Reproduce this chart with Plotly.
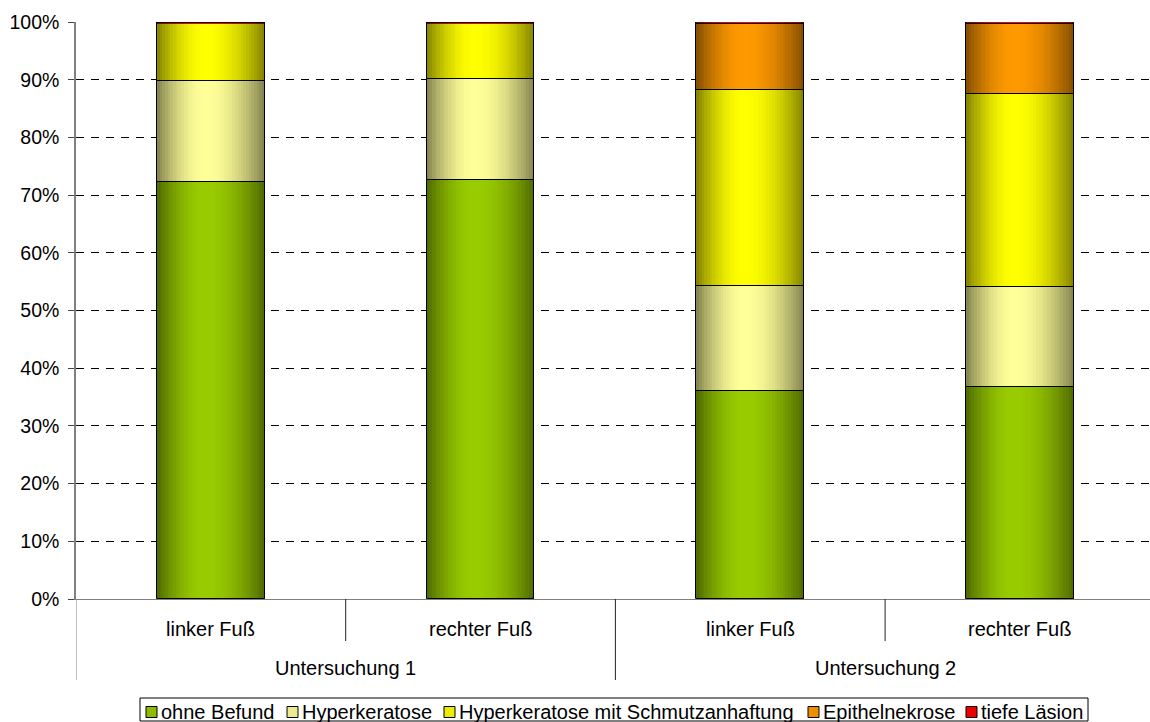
import numpy as np
import plotly.graph_objects as go

# ---- data (percent of feet per finding) ----
groups = ["Untersuchung 1", "Untersuchung 1", "Untersuchung 2", "Untersuchung 2"]
feet = ["linker Fuß", "rechter Fuß", "linker Fuß", "rechter Fuß"]
series_names = ["ohne Befund", "Hyperkeratose", "Hyperkeratose mit Schmutzanhaftung",
                "Epithelnekrose", "tiefe Läsion"]
ohne_befund = [72.2, 72.6, 36.1, 36.7]
hyperkeratose = [17.5, 17.6, 18.1, 17.3]
hyperkeratose_schmutz = [10.1, 9.6, 34.0, 33.5]
epithelnekrose = [0.0, 0.0, 11.4, 12.2]
tiefe_laesion = [0.2, 0.2, 0.4, 0.3]
y_ticks = list(range(0, 101, 10))

series_values = [ohne_befund, hyperkeratose, hyperkeratose_schmutz, epithelnekrose, tiefe_laesion]
center_colors = ["#99CC00", "#FFFF99", "#FFFF00", "#FF9900", "#FF0000"]

# ---- layout geometry ----
W, H = 1150, 722
L, R, T, B = 76, 0, 22, 123
plot_w = W - L - R
plot_h = H - T - B
cat_px = 269.7
x_range = [-0.5, -0.5 + plot_w / cat_px]
FONT = "Liberation Sans, Arial, sans-serif"
FS = 20
FS_TICK = 19.5


def px_x(px):
    return (px - L) / plot_w


def px_y(py):
    return (H - B - py) / plot_h


def hex_rgb(h):
    h = h.lstrip("#")
    return np.array([int(h[i:i + 2], 16) for i in (0, 2, 4)], float)


def shade(hex_color, f):
    c = hex_rgb(hex_color)
    edge = c * 0.5
    v = edge + (c - edge) * f
    return "rgb(%d,%d,%d)" % tuple(np.clip(np.round(v), 0, 255))


def profile(t, peak=0.45):
    # dark edges, bright band slightly left of centre
    if t < peak:
        u = t / peak
    else:
        u = (1 - t) / (1 - peak)
    return np.sin(np.pi / 2 * u) ** 0.9


xs = np.arange(len(feet))
bar_w = 0.4
n_slices = 40
sw = bar_w / n_slices

fig = go.Figure()

# shaded fills, drawn as thin vertical slices of each segment
bottoms = np.zeros(len(feet))
seg_bases = []
for vals, col in zip(series_values, center_colors):
    vals = np.array(vals, float)
    seg_bases.append(bottoms.copy())
    for k in range(n_slices):
        t = (k + 0.5) / n_slices
        fig.add_trace(go.Bar(
            x=xs, y=vals, base=bottoms,
            width=sw * (1.8 if k < n_slices - 1 else 1.0),
            offset=-bar_w / 2 + k * sw,
            marker=dict(color=shade(col, profile(t)), line=dict(width=0)),
            showlegend=False, hoverinfo="skip",
        ))
    bottoms = bottoms + vals

# black outlines of every segment
for name, vals, base in zip(series_names, series_values, seg_bases):
    fig.add_trace(go.Bar(
        x=xs, y=vals, base=base, width=bar_w, offset=-bar_w / 2,
        marker=dict(color="rgba(0,0,0,0)", line=dict(color="black", width=1)),
        name=name, showlegend=False,
        customdata=feet, hovertemplate=name + ": %{y:.1f}%<extra></extra>",
    ))

annotations = []
shapes = []

# inner category labels
for i, f in enumerate(feet):
    annotations.append(dict(x=xs[i], y=px_y(629), xref="x", yref="paper", text=f,
                            showarrow=False, xanchor="center", yanchor="middle",
                            font=dict(family=FONT, size=FS, color="black")))

# outer group labels
for g in dict.fromkeys(groups):
    idx = [i for i, v in enumerate(groups) if v == g]
    annotations.append(dict(x=(xs[idx[0]] + xs[idx[-1]]) / 2, y=px_y(668), xref="x", yref="paper",
                            text=g, showarrow=False, xanchor="center", yanchor="middle",
                            font=dict(family=FONT, size=FS, color="black")))

# category dividers below the axis
boundaries = [(-0.5, True)]
for i in range(len(feet) - 1):
    boundaries.append((i + 0.5, groups[i] != groups[i + 1]))
boundaries.append((len(feet) - 0.5, True))
for bx, long_line in boundaries:
    shapes.append(dict(type="line", xref="x", yref="paper", x0=bx, x1=bx,
                       y0=0, y1=px_y(680 if long_line else 641),
                       line=dict(color="#808080" if bx == -0.5 else "#222222", width=1)))

# legend box with swatches
legend_x = [146, 287, 444, 808, 966]
shapes.append(dict(type="rect", xref="paper", yref="paper",
                   x0=px_x(140), x1=px_x(1088), y0=px_y(698), y1=px_y(721),
                   line=dict(color="black", width=1), fillcolor="white"))
for name, col, lx in zip(series_names, center_colors, legend_x):
    shapes.append(dict(type="rect", xref="paper", yref="paper",
                       x0=px_x(lx), x1=px_x(lx + 11), y0=px_y(706.5), y1=px_y(717.5),
                       line=dict(color="black", width=1), fillcolor=shade(col, 0.85)))
    annotations.append(dict(x=px_x(lx + 13), y=px_y(712), xref="paper", yref="paper",
                            text=name, showarrow=False, xanchor="left", yanchor="middle",
                            font=dict(family=FONT, size=FS, color="black")))

fig.update_layout(
    width=W, height=H,
    margin=dict(l=L, r=R, t=T, b=B, pad=0),
    paper_bgcolor="white", plot_bgcolor="white",
    barmode="overlay", bargap=0,
    showlegend=False,
    font=dict(family=FONT, size=FS, color="black"),
    annotations=annotations, shapes=shapes,
    xaxis=dict(range=x_range, showticklabels=False, ticks="", showgrid=False,
               zeroline=False, showline=True, linecolor="#808080", linewidth=1),
    yaxis=dict(range=[0, 100], tickvals=y_ticks, ticktext=[f"{v}%" for v in y_ticks],
               ticks="outside", ticklen=6, tickcolor="#444444", tickwidth=1,
               ticklabelstandoff=5,
               showgrid=True, gridcolor="#000000", gridwidth=1, griddash="8px,7px",
               zeroline=False, showline=True, linecolor="#808080", linewidth=1.5,
               tickfont=dict(family=FONT, size=FS_TICK, color="black")),
)

fig.write_html("out.html")
